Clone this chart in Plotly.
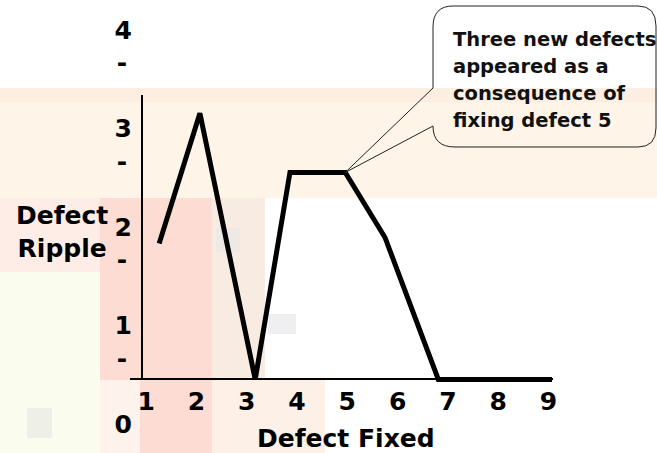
import plotly.graph_objects as go

# Defect ripple sketch: how many new defects each fix produced
fixed_x = [1.26, 2.07, 3.17, 3.86, 4.96, 5.75, 6.81, 9.07]
ripple_y = [2.00, 3.32, 0.62, 2.72, 2.72, 2.06, 0.62, 0.62]

x_ticks = [1, 2, 3, 4, 5, 6, 7, 8, 9]
y_ticks = [0, 1, 2, 3, 4]
y_ticktext = ["0<br>\u00a0", "1<br>-\u2009", "2<br>-\u2009", "3<br>-\u2009", "4<br>-\u2009"]

callout_lines = ["Three new defects", "appeared as a", "consequence of", "fixing defect 5"]
peak_fix_index = 4  # the fix that produced the three new defects

W, H = 657, 453
X_RANGE = [0.68, 9.09]
X_DOMAIN = [130 / W, 553 / W]
Y_RANGE = [-0.126, 4.469]
BASELINE = ripple_y[-1]
AXIS_TOP = 3.505


def px(x):
    return x / W


def py(y):
    return 1 - y / H


def x_to_paper(v):
    return X_DOMAIN[0] + (v - X_RANGE[0]) / (X_RANGE[1] - X_RANGE[0]) * (X_DOMAIN[1] - X_DOMAIN[0])


def y_to_paper(v):
    return (v - Y_RANGE[0]) / (Y_RANGE[1] - Y_RANGE[0])


bold = dict(family="DejaVu Sans", size=25, color="black", weight="bold")
callout_font = dict(family="DejaVu Sans", size=19.5, color="#111111", weight="bold")

fig = go.Figure()
fig.add_trace(go.Scatter(
    x=fixed_x, y=ripple_y, mode="lines",
    line=dict(color="black", width=5),
    hoverinfo="skip", showlegend=False,
))

# soft slide background blocks
bg_blocks = [
    (0, 88, 657, 198, "#FEF4E8"),
    (0, 88, 657, 102, "#FCEFE2"),
    (0, 198, 100, 272, "#FDEDE6"),
    (0, 272, 100, 453, "#FAFDEE"),
    (100, 198, 212, 380, "#FDDCD4"),
    (100, 380, 140, 453, "#FEF3EC"),
    (140, 380, 212, 453, "#FDDCD4"),
    (212, 198, 265, 380, "#F7EBE2"),
    (212, 380, 325, 453, "#FDF0E7"),
    (216, 228, 240, 252, "#EFE9E6"),
    (268, 314, 296, 334, "#EFEFF1"),
    (27, 408, 52, 438, "#EEF0E8"),
]
shapes = []
for x0, y0, x1, y1, c in bg_blocks:
    shapes.append(dict(type="rect", xref="paper", yref="paper",
                       x0=px(x0), x1=px(x1), y0=py(y1), y1=py(y0),
                       fillcolor=c, line=dict(width=0), layer="below"))

# vertical axis line
shapes.append(dict(type="line", xref="paper", yref="y",
                   x0=px(142), x1=px(142), y0=BASELINE, y1=AXIS_TOP,
                   line=dict(color="black", width=2)))

# speech bubble pointing at the fix
tx = x_to_paper(fixed_x[peak_fix_index])
ty = y_to_paper(ripple_y[peak_fix_index])
L, R, T, B = 433, 656, 6, 147
pts = [
    f"M {tx:.5f},{ty:.5f}",
    f"L {px(L):.5f},{py(88):.5f}",
    f"L {px(L):.5f},{py(T + 21):.5f}",
    f"Q {px(L):.5f},{py(T):.5f} {px(L + 20):.5f},{py(T):.5f}",
    f"L {px(R - 18):.5f},{py(T):.5f}",
    f"Q {px(R):.5f},{py(T):.5f} {px(R):.5f},{py(T + 20):.5f}",
    f"L {px(R):.5f},{py(B - 19):.5f}",
    f"Q {px(R):.5f},{py(B):.5f} {px(R - 18):.5f},{py(B):.5f}",
    f"L {px(L + 22):.5f},{py(B):.5f}",
    f"Q {px(L):.5f},{py(B):.5f} {px(L):.5f},{py(126):.5f}",
    "Z",
]
shapes.append(dict(type="path", xref="paper", yref="paper", path=" ".join(pts),
                   line=dict(color="#222222", width=1), fillcolor="rgba(0,0,0,0)"))

annotations = [
    dict(text="Defect<br>Ripple", xref="paper", yref="paper",
         x=px(62), y=py(232), xanchor="center", yanchor="middle",
         showarrow=False, font=bold, align="center"),
    dict(text="Defect Fixed", xref="paper", yref="paper",
         x=px(346), y=py(438), xanchor="center", yanchor="middle",
         showarrow=False, font=bold),
]
for i, line in enumerate(callout_lines):
    annotations.append(dict(text=line, xref="paper", yref="paper",
                            x=px(451), y=py(39 + 27.3 * i), xanchor="left", yanchor="middle",
                            showarrow=False, font=callout_font))

fig.update_layout(
    width=W, height=H, autosize=False,
    margin=dict(l=0, r=0, t=0, b=0, autoexpand=False),
    paper_bgcolor="white", plot_bgcolor="rgba(0,0,0,0)",
    shapes=shapes,
    annotations=annotations,
    xaxis=dict(
        domain=X_DOMAIN, range=X_RANGE, anchor="free",
        position=y_to_paper(BASELINE), automargin=False,
        showline=True, linecolor="black", linewidth=2,
        showgrid=False, zeroline=False, ticks="",
        tickvals=x_ticks, ticktext=[str(v) for v in x_ticks],
        tickfont=bold, ticklabeloverflow="allow",
    ),
    yaxis=dict(
        domain=[0, 1], range=Y_RANGE, anchor="free", position=px(132),
        automargin=False,
        showline=False, showgrid=False, zeroline=False, ticks="",
        tickvals=y_ticks, ticktext=y_ticktext, tickfont=bold,
        ticklabeloverflow="allow",
    ),
)

fig.write_html("out.html")
